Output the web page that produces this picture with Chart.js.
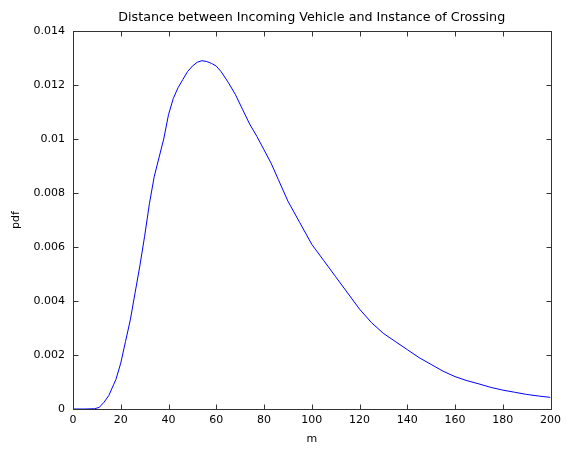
<!DOCTYPE html>
<html>
<head>
<meta charset="utf-8">
<script src="https://cdn.jsdelivr.net/npm/chart.js@4.4.1/dist/chart.umd.min.js"></script>
<style>
	body { margin: 0; background: #fff; }
	#wrap { width: 566px; height: 450px; }
</style>
</head>
<body>
<div id="wrap"><canvas id="pdfchart" width="566" height="450"></canvas></div>
<script>
var chartTitle = 'Distance between Incoming Vehicle and Instance of Crossing';
var xLabel = 'm';
var yLabel = 'pdf';

// distance in m
var distance = [0, 5, 9, 11, 13, 15, 17, 18, 20, 22, 24, 26, 28, 30, 32, 34, 36, 38, 40, 42, 44, 46, 48, 50, 52, 54, 56, 58, 60, 62, 65, 68, 71, 74, 77, 80, 83, 86, 90, 95, 100, 105, 110, 115, 120, 125, 130, 135, 140, 145, 150, 155, 160, 165, 170, 175, 180, 185, 190, 195, 200];
var pdf = [0, 0, 0.00001, 0.00006, 0.00025, 0.0005, 0.0009, 0.0011, 0.0017, 0.0025, 0.0033, 0.0043, 0.0053, 0.0064, 0.0076, 0.0086, 0.0093, 0.0100, 0.0109, 0.0115, 0.0119, 0.0122, 0.0125, 0.0127, 0.01284, 0.0129, 0.01287, 0.0128, 0.0127, 0.0125, 0.0121, 0.01165, 0.0111, 0.01055, 0.0101, 0.0096, 0.0091, 0.0085, 0.0077, 0.0069, 0.0061, 0.0055, 0.0049, 0.0043, 0.0037, 0.0032, 0.0028, 0.0025, 0.0022, 0.0019, 0.00165, 0.0014, 0.0012, 0.00105, 0.00093, 0.0008, 0.0007, 0.00062, 0.00054, 0.00048, 0.00043];

var xTicks = [0, 20, 40, 60, 80, 100, 120, 140, 160, 180, 200];
var yTicks = [0, 0.002, 0.004, 0.006, 0.008, 0.01, 0.012, 0.014];

var points = [];
for (var i in distance) {
	points.push({x: distance[i], y: pdf[i]});
}

var fontName = '"DejaVu Sans", sans-serif';

// matlab style box, inward ticks and title over the axes
var matlabBox = {
	id: 'matlabBox',
	afterDraw: function(chart) {
		var ctx = chart.ctx;
		var a = chart.chartArea;
		var xs = chart.scales.x;
		var ys = chart.scales.y;
		var l = Math.round(a.left) + 0.5, r = Math.round(a.right) + 0.5;
		var t = Math.round(a.top) + 0.5, b = Math.round(a.bottom) + 0.5;
		ctx.save();
		ctx.strokeStyle = '#333';
		ctx.lineWidth = 1;
		ctx.strokeRect(l, t, r - l, b - t);
		ctx.beginPath();
		xTicks.forEach(function(v) {
			var px = Math.round(xs.getPixelForValue(v)) + 0.5;
			ctx.moveTo(px, b); ctx.lineTo(px, b - 5);
			ctx.moveTo(px, t); ctx.lineTo(px, t + 5);
		});
		yTicks.forEach(function(v) {
			var py = Math.round(ys.getPixelForValue(v)) + 0.5;
			ctx.moveTo(l, py); ctx.lineTo(l + 5, py);
			ctx.moveTo(r, py); ctx.lineTo(r - 5, py);
		});
		ctx.stroke();
		ctx.fillStyle = '#000';
		ctx.font = '12.7px ' + fontName;
		ctx.textAlign = 'center';
		ctx.textBaseline = 'alphabetic';
		ctx.fillText(chartTitle, (a.left + a.right) / 2, 21);
		ctx.restore();
	}
};

var chartdata = {
	datasets: [
		{
			label: yLabel,
			data: points,
			borderColor: '#0000ff',
			borderWidth: 1,
			pointRadius: 0,
			tension: 0,
			fill: false
		}
	]
};

Chart.defaults.font.family = fontName;
Chart.defaults.font.size = 11;
Chart.defaults.color = '#000';

var pdfGraph = new Chart(document.getElementById('pdfchart'), {
	type: 'line',
	data: chartdata,
	options: {
		responsive: false,
		animation: false,
		layout: { padding: { top: 31, right: 13, left: 0, bottom: 0 } },
		plugins: {
			legend: { display: false },
			tooltip: { enabled: false }
		},
		scales: {
			x: {
				type: 'linear',
				min: 0,
				max: 200,
				afterFit: function(s) { s.height = 41; },
				afterBuildTicks: function(s) { s.ticks = xTicks.map(function(v) { return {value: v}; }); },
				grid: { display: false, drawTicks: false },
				border: { display: false },
				ticks: { padding: 5, maxRotation: 0, autoSkip: false },
				title: { display: true, text: xLabel, padding: { top: 0, bottom: 4 } }
			},
			y: {
				min: 0,
				max: 0.014,
				afterFit: function(s) { s.width = 73; },
				afterBuildTicks: function(s) { s.ticks = yTicks.map(function(v) { return {value: v}; }); },
				grid: { display: false, drawTicks: false },
				border: { display: false },
				ticks: {
					padding: 8,
					autoSkip: false,
					callback: function(v) { return String(+v.toFixed(4)); }
				},
				title: { display: true, text: yLabel, padding: { top: 10, bottom: 0 } }
			}
		}
	},
	plugins: [matlabBox]
});
</script>
</body>
</html>
